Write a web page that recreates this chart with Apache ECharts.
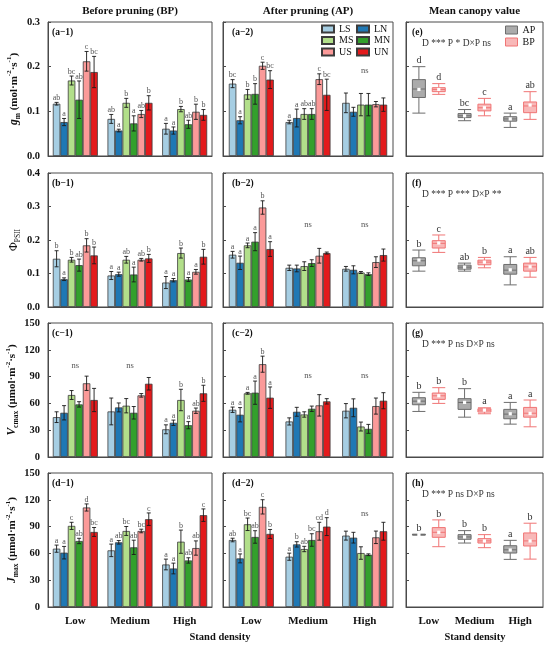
<!DOCTYPE html>
<html>
<head>
<meta charset="utf-8">
<script src="https://cdn.jsdelivr.net/npm/echarts@6/dist/echarts.min.js"></script>
<style>
html,body{margin:0;padding:0;background:#fff}
#main{width:550px;height:647px}
</style>
</head>
<body>
<div id="main"></div>
<script>
// categories
var groups = ['Low', 'Medium', 'High'];
var treatments = ['LS', 'LN', 'MS', 'MN', 'US', 'UN'];

// values per treatment (rows) x stand density (cols)
// gm, before pruning
var gmBPMean = [[0.117, 0.083, 0.061], [0.076, 0.057, 0.057], [0.169, 0.119, 0.105], [0.126, 0.073, 0.071], [0.212, 0.094, 0.099], [0.188, 0.119, 0.092]];
var gmBPErr = [[0.003, 0.010, 0.012], [0.008, 0.003, 0.008], [0.010, 0.010, 0.006], [0.042, 0.017, 0.009], [0.022, 0.008, 0.017], [0.035, 0.016, 0.012]];
var gmBPLetters = [['ab', 'ab', 'a'], ['a', 'a', 'a'], ['bc', 'b', 'b'], ['ab', 'a', 'ab'], ['c', 'ab', 'b'], ['bc', 'b', 'b']];
var gmBPns = [];
// gm, after pruning
var gmAPMean = [[0.162, 0.076, 0.119], [0.080, 0.085, 0.099], [0.138, 0.094, 0.115], [0.139, 0.094, 0.115], [0.202, 0.172, 0.116], [0.171, 0.137, 0.115]];
var gmAPErr = [[0.009, 0.004, 0.022], [0.008, 0.020, 0.010], [0.011, 0.012, 0.025], [0.023, 0.012, 0.025], [0.008, 0.012, 0.006], [0.020, 0.035, 0.015]];
var gmAPLetters = [['bc', 'a', ''], ['a', 'a', ''], ['b', 'ab', ''], ['b', 'ab', ''], ['c', 'c', ''], ['bc', 'bc', '']];
var gmAPns = [[2, 0.19]];
// PhiPSII, before pruning
var phiBPMean = [[0.144, 0.094, 0.073], [0.083, 0.098, 0.080], [0.141, 0.141, 0.161], [0.125, 0.097, 0.082], [0.184, 0.141, 0.105], [0.154, 0.145, 0.150]];
var phiBPErr = [[0.024, 0.012, 0.018], [0.004, 0.006, 0.005], [0.007, 0.010, 0.015], [0.018, 0.022, 0.006], [0.020, 0.004, 0.007], [0.025, 0.012, 0.022]];
var phiBPLetters = [['b', 'a', 'a'], ['a', 'a', 'a'], ['b', 'ab', 'b'], ['ab', 'a', 'a'], ['b', 'ab', 'a'], ['b', 'b', 'b']];
var phiBPns = [];
// PhiPSII, after pruning
var phiAPMean = [[0.156, 0.117, 0.114], [0.132, 0.115, 0.111], [0.184, 0.122, 0.103], [0.195, 0.131, 0.098], [0.297, 0.153, 0.134], [0.173, 0.161, 0.155]];
var phiAPErr = [[0.010, 0.008, 0.007], [0.020, 0.010, 0.012], [0.007, 0.013, 0.003], [0.027, 0.010, 0.004], [0.020, 0.022, 0.016], [0.022, 0.003, 0.018]];
var phiAPLetters = [['a', '', ''], ['a', '', ''], ['a', '', ''], ['a', '', ''], ['b', '', ''], ['a', '', '']];
var phiAPns = [[1, 0.246], [2, 0.246]];
// Vcmax, before pruning
var vcBPMean = [[44.6, 51.0, 31.0], [49.5, 55.5, 38.3], [69.4, 57.4, 63.8], [58.9, 49.5, 35.6], [82.5, 69.0, 51.8], [63.8, 82.0, 71.3]];
var vcBPErr = [[6, 15, 5], [8, 5, 3], [5, 8, 12], [3, 7, 4], [8, 2, 3], [13, 7, 9]];
var vcBPLetters = [['', '', 'a'], ['', '', 'a'], ['', '', 'b'], ['', '', 'a'], ['', '', 'ab'], ['', '', 'b']];
var vcBPns = [[0, 102], [1, 102]];
// Vcmax, after pruning
var vcAPMean = [[52.9, 39.8, 51.8], [47.3, 50.6, 55.1], [71.3, 47.6, 34.1], [72.0, 54.0, 31.5], [103.9, 57.8, 57.0], [66.4, 62.3, 63.0]];
var vcAPErr = [[3, 4, 8], [8, 5, 10], [1, 3, 5], [13, 3, 5], [9, 12, 9], [12, 3, 9]];
var vcAPLetters = [['a', '', ''], ['a', '', ''], ['a', '', ''], ['a', '', ''], ['b', '', ''], ['a', '', '']];
var vcAPns = [[1, 91], [2, 91]];
// Jmax, before pruning
var jmBPMean = [[65.3, 63.4, 47.6], [60.8, 72.4, 43.1], [90.8, 85.1, 73.1], [73.9, 66.8, 52.1], [111.4, 85.1, 66.0], [84.0, 98.3, 102.8]];
var jmBPErr = [[4, 7, 6], [7, 2, 6], [4, 5, 13], [3, 8, 3], [4, 2, 8], [5, 7, 7]];
var jmBPLetters = [['a', 'a', 'a'], ['a', 'ab', 'a'], ['c', 'bc', 'b'], ['ab', 'ab', 'ab'], ['d', 'bc', 'ab'], ['bc', 'c', 'c']];
var jmBPns = [];
// Jmax, after pruning
var jmAPMean = [[75.0, 56.3, 79.9], [54.4, 70.1, 77.6], [92.6, 64.9, 60.4], [78.4, 75.0, 58.5], [112.1, 84.8, 78.0], [81.8, 90.0, 84.8]];
var jmAPErr = [[2, 4, 5], [5, 3, 6], [7, 3, 7], [7, 7, 1], [8, 10, 7], [5, 10, 10]];
var jmAPLetters = [['ab', 'a', ''], ['a', 'b', ''], ['bc', 'ab', ''], ['ab', 'bc', ''], ['c', 'cd', ''], ['b', 'd', '']];
var jmAPns = [[2, 104]];

// mean canopy box plots: [min, Q1, median, Q3, max] per stand density
var gmBoxAP = [[0.096, 0.131, 0.150, 0.171, 0.200], [0.079, 0.086, 0.090, 0.095, 0.104], [0.064, 0.078, 0.083, 0.088, 0.096]];
var gmBoxBP = [[0.138, 0.144, 0.149, 0.153, 0.162], [0.090, 0.101, 0.108, 0.116, 0.129], [0.082, 0.097, 0.112, 0.121, 0.144]];
var gmAvgAP = [0.149, 0.090, 0.083];
var gmAvgBP = [0.149, 0.108, 0.114];
var gmBoxLettersAP = ['d', 'bc', 'a'];
var gmBoxLettersBP = ['d', 'c', 'ab'];

var phiBoxAP = [[0.107, 0.123, 0.138, 0.147, 0.170], [0.107, 0.113, 0.119, 0.125, 0.131], [0.066, 0.098, 0.110, 0.127, 0.150]];
var phiBoxBP = [[0.163, 0.176, 0.190, 0.198, 0.215], [0.117, 0.126, 0.134, 0.140, 0.148], [0.089, 0.107, 0.120, 0.131, 0.148]];
var phiAvgAP = [0.140, 0.119, 0.111];
var phiAvgBP = [0.191, 0.134, 0.120];
var phiBoxLettersAP = ['b', 'ab', 'a'];
var phiBoxLettersBP = ['c', 'b', 'ab'];

var vcBoxAP = [[51.0, 58.5, 62.5, 66.4, 72.4], [44.6, 53.3, 61.0, 65.3, 76.5], [36.8, 42.8, 48.0, 53.3, 61.1]];
var vcBoxBP = [[60.0, 64.5, 68.5, 71.6, 77.6], [48.4, 50.3, 52.5, 54.0, 55.1], [33.8, 44.6, 49.0, 55.5, 63.8]];
var vcAvgAP = [62.6, 61.1, 48.4];
var vcAvgBP = [68.6, 52.5, 48.8];
var vcBoxLettersAP = ['b', 'b', 'a'];
var vcBoxLettersBP = ['b', 'a', 'a'];

var jmBoxAP = [[80.5, 80.8, 81.0, 81.2, 81.5], [71.6, 75.8, 78.4, 81.0, 85.5], [53.3, 60.4, 64.0, 68.6, 74.6]];
var jmBoxBP = [[67.5, 78.0, 83.6, 88.9, 97.5], [66.4, 71.6, 74.0, 76.5, 81.0], [53.6, 68.3, 74.0, 82.9, 93.8]];
var jmAvgAP = [81.0, 78.4, 63.8];
var jmAvgBP = [83.6, 73.9, 73.9];
var jmBoxLettersAP = ['b', 'b', 'a'];
var jmBoxLettersBP = ['b', 'b', 'b'];

// texts
var columnTitles = ['Before pruning (BP)', 'After pruning (AP)', 'Mean canopy value'];
var panelLabels = [['(a\u22121)', '(a\u22122)', '(e)'], ['(b\u22121)', '(b\u22122)', '(f)'], ['(c\u22121)', '(c\u22122)', '(g)'], ['(d\u22121)', '(d\u22122)', '(h)']];
var anovaTexts = ['D *** P * D\u00d7P ns', 'D *** P *** D\u00d7P **', 'D *** P ns D\u00d7P ns', 'D *** P ns D\u00d7P ns'];
var yNames = [
  '{bi|g}{sub|m}{b| (mol\u00b7m}{sup|-2}{b|\u00b7s}{sup|-1}{b|)}',
  '{n|\u03a6}{subn|PSII}',
  '{bi|V}{sub|cmax}{b| (\u03bcmol\u00b7m}{sup|-2}{b|\u00b7s}{sup|-1}{b|)}',
  '{bi|J}{sub|max}{b| (\u03bcmol\u00b7m}{sup|-2}{b|\u00b7s}{sup|-1}{b|)}'
];
var yMax = [0.3, 0.4, 150, 150];
var yStep = [0.1, 0.1, 30, 30];
var yDigits = [1, 1, 0, 0];

var barPanels = [
  [[gmBPMean, gmBPErr, gmBPLetters, gmBPns], [gmAPMean, gmAPErr, gmAPLetters, gmAPns]],
  [[phiBPMean, phiBPErr, phiBPLetters, phiBPns], [phiAPMean, phiAPErr, phiAPLetters, phiAPns]],
  [[vcBPMean, vcBPErr, vcBPLetters, vcBPns], [vcAPMean, vcAPErr, vcAPLetters, vcAPns]],
  [[jmBPMean, jmBPErr, jmBPLetters, jmBPns], [jmAPMean, jmAPErr, jmAPLetters, jmAPns]]
];
var boxPanels = [
  [gmBoxAP, gmBoxBP, gmAvgAP, gmAvgBP, gmBoxLettersAP, gmBoxLettersBP],
  [phiBoxAP, phiBoxBP, phiAvgAP, phiAvgBP, phiBoxLettersAP, phiBoxLettersBP],
  [vcBoxAP, vcBoxBP, vcAvgAP, vcAvgBP, vcBoxLettersAP, vcBoxLettersBP],
  [jmBoxAP, jmBoxBP, jmAvgAP, jmAvgBP, jmBoxLettersAP, jmBoxLettersBP]
];

// styling / layout
var F = '"Liberation Serif", "Times New Roman", serif';
var barColors = ['#a6cee3', '#1f78b4', '#b2df8a', '#33a02c', '#fb9a99', '#e31a1c'];
var axisColor = '#4a4a4a';
var colLeft = [48, 223, 406];
var colWidth = [164, 170, 137];
var rowTop = [22, 173, 323, 473];
var rowH = 134;
var barW = 7.5;
var labelInset = [4, 9, 6];

var rich = {
  b: {fontFamily: F, fontWeight: 'bold', fontSize: 11, lineHeight: 16, color: '#111'},
  bi: {fontFamily: F, fontWeight: 'bold', fontStyle: 'italic', fontSize: 11.5, lineHeight: 16, color: '#111'},
  sub: {fontFamily: F, fontWeight: 'bold', fontSize: 7.5, lineHeight: 9, verticalAlign: 'bottom', color: '#111'},
  sup: {fontFamily: F, fontWeight: 'bold', fontSize: 7, lineHeight: 9, verticalAlign: 'top', color: '#111'},
  n: {fontFamily: F, fontSize: 12, lineHeight: 16, color: '#111'},
  subn: {fontFamily: F, fontSize: 7.5, lineHeight: 9, verticalAlign: 'bottom', color: '#111'}
};

function errRender(letters) {
  return function (params, api) {
    var g = api.value(0), m = api.value(1), e = api.value(2), t = api.value(3);
    var off = (t - 2.5) * barW;
    var top = api.coord([g, m + e]);
    var bot = api.coord([g, m - e]);
    var x = top[0] + off;
    var ls = {stroke: '#1a1a1a', lineWidth: 0.9};
    var kids = [
      {type: 'line', shape: {x1: x, y1: top[1], x2: x, y2: bot[1]}, style: ls},
      {type: 'line', shape: {x1: x - 2, y1: top[1], x2: x + 2, y2: top[1]}, style: ls},
      {type: 'line', shape: {x1: x - 2, y1: bot[1], x2: x + 2, y2: bot[1]}, style: ls}
    ];
    var txt = letters[t][g];
    if (txt) {
      kids.push({type: 'text', x: x, y: top[1] - 0.5,
        style: {text: txt, font: '8px ' + F, fill: '#555', textAlign: 'center', textVerticalAlign: 'bottom'}});
    }
    return {type: 'group', children: kids};
  };
}

function nsRender(params, api) {
  var p = api.coord([api.value(0), api.value(1)]);
  return {type: 'text', x: p[0], y: p[1],
    style: {text: 'ns', font: '8.5px ' + F, fill: '#555', textAlign: 'center', textVerticalAlign: 'middle'}};
}

function boxMarkRender(lettersAP, lettersBP) {
  return function (params, api) {
    var g = api.value(0), avg = api.value(1), hi = api.value(2), s = api.value(3);
    // same side-by-side offsets the boxplot layout uses for two series
    var band = api.size([1, 0])[0];
    var avail = band * 0.8 - 2;
    var gap = avail / 2 * 0.3;
    var w = (avail - gap) / 2;
    var off = w / 2 - avail / 2 + s * (gap + w);
    var pm = api.coord([g, avg]);
    var ph = api.coord([g, hi]);
    var x = pm[0] + off;
    var txt = (s === 0 ? lettersAP : lettersBP)[g];
    return {type: 'group', children: [
      {type: 'rect', shape: {x: x - 1.6, y: pm[1] - 1.6, width: 3.2, height: 3.2}, style: {fill: '#fff'}},
      {type: 'text', x: x, y: ph[1] - 1,
        style: {text: txt, font: '10px ' + F, fill: '#333', textAlign: 'center', textVerticalAlign: 'bottom'}}
    ]};
  };
}

var grids = [], xAxes = [], yAxes = [], series = [], graphics = [];

for (var r = 0; r < 4; r++) {
  for (var c = 0; c < 3; c++) {
    var gi = r * 3 + c;
    grids.push({left: colLeft[c], top: rowTop[r], width: colWidth[c], height: rowH,
      show: true, borderColor: axisColor, borderWidth: 1, backgroundColor: 'transparent',
      containLabel: false, outerBoundsMode: 'none'});
    xAxes.push({gridIndex: gi, type: 'category', data: groups,
      axisLine: {lineStyle: {color: axisColor, width: 1}},
      axisTick: {alignWithLabel: true, length: 3, lineStyle: {color: axisColor}},
      axisLabel: {show: r === 3, interval: 0, hideOverlap: false, fontFamily: F, fontWeight: 'bold',
        fontSize: 11, color: '#111', margin: 9},
      splitLine: {show: false}});
    (function (row) {
      yAxes.push({gridIndex: gi, type: 'value', min: 0, max: yMax[row], interval: yStep[row],
        axisLine: {show: true, lineStyle: {color: axisColor, width: 1}},
        axisTick: {show: true, inside: true, length: 3, lineStyle: {color: axisColor}},
        axisLabel: {show: c === 0, fontFamily: F, fontWeight: 'bold', fontSize: 10.5, color: '#111', margin: 8,
          formatter: function (v) { return v.toFixed(yDigits[row]); }},
        splitLine: {show: false},
        name: c === 0 ? yNames[row] : '', nameLocation: 'middle', nameRotate: 90, nameGap: 26,
        nameTextStyle: {rich: rich}});
    })(r);

    graphics.push({type: 'text', x: colLeft[c] + labelInset[c], y: rowTop[r] + 11,
      style: {text: panelLabels[r][c], font: 'bold 9.5px ' + F, fill: '#111', textVerticalAlign: 'middle'}});

    if (c < 2) {
      var pd = barPanels[r][c];
      var mean = pd[0], err = pd[1], letters = pd[2], ns = pd[3];
      var errData = [];
      for (var t = 0; t < 6; t++) {
        series.push({type: 'bar', name: treatments[t], xAxisIndex: gi, yAxisIndex: gi,
          data: mean[t], barWidth: barW, barGap: '0%',
          itemStyle: {color: barColors[t], borderColor: '#3c3c3c', borderWidth: 0.8},
          emphasis: {disabled: true}});
        for (var g = 0; g < 3; g++) errData.push([g, mean[t][g], err[t][g], t]);
      }
      series.push({type: 'custom', xAxisIndex: gi, yAxisIndex: gi, data: errData,
        encode: {x: 0, y: 1}, renderItem: errRender(letters), z: 5, silent: true});
      if (ns.length) {
        series.push({type: 'custom', xAxisIndex: gi, yAxisIndex: gi, data: ns,
          encode: {x: 0, y: 1}, renderItem: nsRender, z: 5, silent: true});
      }
    } else {
      var bp = boxPanels[r];
      series.push({type: 'boxplot', name: 'AP', xAxisIndex: gi, yAxisIndex: gi, data: bp[0],
        boxWidth: [13, 13], itemStyle: {color: '#ababab', borderColor: '#6d6d6d', borderWidth: 1},
        emphasis: {disabled: true}});
      series.push({type: 'boxplot', name: 'BP', xAxisIndex: gi, yAxisIndex: gi, data: bp[1],
        boxWidth: [13, 13], itemStyle: {color: '#f8b8b8', borderColor: '#f07575', borderWidth: 1},
        emphasis: {disabled: true}});
      var markData = [];
      for (var g2 = 0; g2 < 3; g2++) {
        markData.push([g2, bp[2][g2], bp[0][g2][4], 0]);
        markData.push([g2, bp[3][g2], bp[1][g2][4], 1]);
      }
      series.push({type: 'custom', xAxisIndex: gi, yAxisIndex: gi, data: markData,
        encode: {x: 0, y: 1}, renderItem: boxMarkRender(bp[4], bp[5]), z: 5, silent: true});
      graphics.push({type: 'text', x: colLeft[2] + 16, y: rowTop[r] + 21,
        style: {text: anovaTexts[r], font: '9.5px ' + F, fill: '#333', textVerticalAlign: 'middle'}});
    }
  }
}

for (var k = 0; k < 3; k++) {
  graphics.push({type: 'text', x: colLeft[k] + colWidth[k] / 2, y: 11,
    style: {text: columnTitles[k], font: 'bold 11px ' + F, fill: '#111', textAlign: 'center', textVerticalAlign: 'middle'}});
}
graphics.push({type: 'text', x: 220, y: 637,
  style: {text: 'Stand density', font: 'bold 10.5px ' + F, fill: '#111', textAlign: 'center', textVerticalAlign: 'middle'}});
graphics.push({type: 'text', x: 475, y: 637,
  style: {text: 'Stand density', font: 'bold 10.5px ' + F, fill: '#111', textAlign: 'center', textVerticalAlign: 'middle'}});

var legendText = {fontFamily: F, fontSize: 10, color: '#111'};
var myChart = echarts.init(document.getElementById('main'), null, {renderer: 'canvas'});
myChart.setOption({
  animation: false,
  backgroundColor: '#fff',
  grid: grids,
  xAxis: xAxes,
  yAxis: yAxes,
  legend: [
    {data: ['LS', 'MS', 'US'], orient: 'vertical', left: 321, top: 24, padding: 0,
      itemWidth: 12, itemHeight: 7, itemGap: 1.5, icon: 'rect', selectedMode: false, textStyle: legendText},
    {data: ['LN', 'MN', 'UN'], orient: 'vertical', left: 356, top: 24, padding: 0,
      itemWidth: 12, itemHeight: 7, itemGap: 1.5, icon: 'rect', selectedMode: false, textStyle: legendText},
    {data: [
        {name: 'AP', itemStyle: {color: '#ababab', borderColor: '#6d6d6d', borderWidth: 1}},
        {name: 'BP', itemStyle: {color: '#f8b8b8', borderColor: '#f07575', borderWidth: 1}}],
      orient: 'vertical', left: 505, top: 25, padding: 0,
      itemWidth: 12, itemHeight: 8, itemGap: 2, icon: 'rect', selectedMode: false, textStyle: legendText}
  ],
  series: series,
  graphic: graphics
});
</script>
</body>
</html>
